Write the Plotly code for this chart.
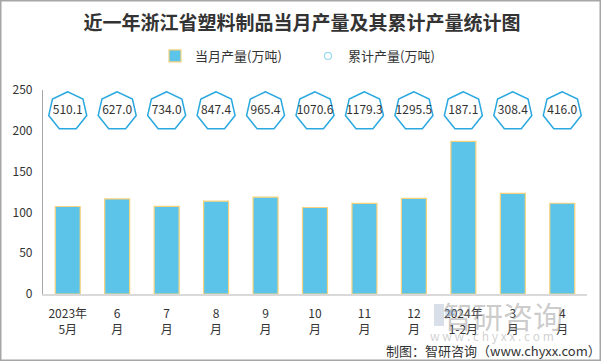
import math
import plotly.graph_objects as go

categories = ["2023年<br>5月", "6<br>月", "7<br>月", "8<br>月", "9<br>月", "10<br>月",
              "11<br>月", "12<br>月", "2024年<br>1-2月", "3<br>月", "4<br>月"]
monthly = [107.2, 116.5, 107.5, 113.8, 118.6, 106.0, 111.0, 117.3, 187.1, 123.4, 111.2]
cumulative = [510.1, 627.0, 734.0, 847.4, 965.4, 1070.6, 1179.3, 1295.5, 187.1, 308.4, 416.0]
label_level = 224
y_ticks = [0, 50, 100, 150, 200, 250]

FONT = "Noto Sans CJK SC"
BAR_FILL = "#5BC4E8"
BAR_LINE = "#F7D27C"
HEPT = "#2AA8DF"

fig = go.Figure()
fig.add_trace(go.Bar(
    x=list(range(len(categories))), y=monthly, name="当月产量(万吨)",
    marker=dict(color=BAR_FILL, line=dict(color=BAR_LINE, width=1.2)),
    width=0.505,
))
fig.add_trace(go.Scatter(
    x=list(range(len(categories))), y=[label_level] * len(categories),
    mode="text", text=[f"{v:.1f}" for v in cumulative],
    textfont=dict(family=FONT, size=12, color="#333333"),
    showlegend=False, hoverinfo="skip",
))
fig.add_trace(go.Scatter(
    x=[None], y=[None], mode="markers", name="累计产量(万吨)",
    marker=dict(symbol="circle-open", size=7, color="#9CD8EE", line=dict(width=1.2)),
))

# heptagon outlines, pixel-sized, anchored at each data point
R = 19.5
pts = []
for k in range(7):
    a = math.pi / 2 + k * 2 * math.pi / 7
    pts.append((R * math.cos(a), R * math.sin(a)))
path = "M " + " L ".join(f"{px:.2f},{py:.2f}" for px, py in pts) + " Z"
for i in range(len(categories)):
    fig.add_shape(type="path", xref="x", yref="y", xsizemode="pixel", ysizemode="pixel",
                  xanchor=i, yanchor=label_level, path=path,
                  line=dict(color=HEPT, width=1.5), fillcolor="rgba(0,0,0,0)", layer="below")

L, Rm, T, B = 43, 16, 90, 68
W, H = 603, 362
pw, ph = W - L - Rm, H - T - B

def px2paper_x(p):
    return (p - L) / pw

def px2paper_y(p):
    return (H - B - p) / ph

# outer frame
fig.add_shape(type="rect", xref="paper", yref="paper",
              x0=px2paper_x(0.75), x1=px2paper_x(600.25), y0=px2paper_y(360.25), y1=px2paper_y(0.75),
              line=dict(color="#A6A6A6", width=1.5), fillcolor="rgba(0,0,0,0)")

# watermark
fig.add_shape(type="rect", xref="paper", yref="paper",
              x0=px2paper_x(434), x1=px2paper_x(444), y0=px2paper_y(326), y1=px2paper_y(304),
              line=dict(width=0), fillcolor="rgba(120,140,175,0.28)")
fig.add_shape(type="rect", xref="paper", yref="paper",
              x0=px2paper_x(445), x1=px2paper_x(455), y0=px2paper_y(316), y1=px2paper_y(309),
              line=dict(width=0), fillcolor="rgba(110,170,225,0.28)")
fig.add_annotation(text="智研咨询", xref="paper", yref="paper", x=px2paper_x(503), y=px2paper_y(315),
                   xanchor="center", yanchor="middle",
                   showarrow=False, font=dict(family=FONT, size=30, color="rgba(140,140,140,0.45)"))
fig.add_annotation(text="w w w . c h y x x . c o m", xref="paper", yref="paper",
                   x=px2paper_x(492), y=px2paper_y(335), xanchor="center", yanchor="middle",
                   showarrow=False, font=dict(family=FONT, size=12, color="rgba(150,150,150,0.45)"))
# source
fig.add_annotation(text="制图：智研咨询（www.chyxx.com）", xref="paper", yref="paper",
                   x=px2paper_x(603), y=px2paper_y(350), xanchor="right", yanchor="middle",
                   showarrow=False, font=dict(family=FONT, size=13, color="#333333"))

fig.update_layout(
    width=W, height=H, margin=dict(l=L, r=Rm, t=T, b=B, autoexpand=False),
    paper_bgcolor="white", plot_bgcolor="white",
    title=dict(text="<b>近一年浙江省塑料制品当月产量及其累计产量统计图</b>",
               x=302 / W, xref="container", y=1 - 23 / H, yref="container",
               xanchor="center", yanchor="middle",
               font=dict(family=FONT, size=19, color="#333333")),
    legend=dict(orientation="h", xref="container", yref="container",
                x=155 / W, y=1 - 56 / H, xanchor="left", yanchor="middle",
                font=dict(family=FONT, size=13, color="#333333"),
                entrywidth=108, entrywidthmode="pixels", itemwidth=30),
    xaxis=dict(tickmode="array", tickvals=list(range(len(categories))), ticktext=categories,
               range=[-0.5, len(categories) - 0.5], showgrid=False, zeroline=False,
               showline=True, linecolor="#D9D9D9", linewidth=1.5, ticks="",
               automargin=False, ticklabelstandoff=8,
               tickfont=dict(family=FONT, size=12, color="#333333")),
    yaxis=dict(range=[0, 250], tickvals=y_ticks, showgrid=False, zeroline=False,
               showline=True, linecolor="#A6A6A6", linewidth=1.2, ticks="",
               automargin=False,
               tickfont=dict(family=FONT, size=12, color="#333333"), ticklabelstandoff=7),
    bargap=0.49,
)
fig.write_html("out.html", config={"displayModeBar": False},
               post_script="document.body.style.margin='0';document.body.style.overflow='hidden';")
